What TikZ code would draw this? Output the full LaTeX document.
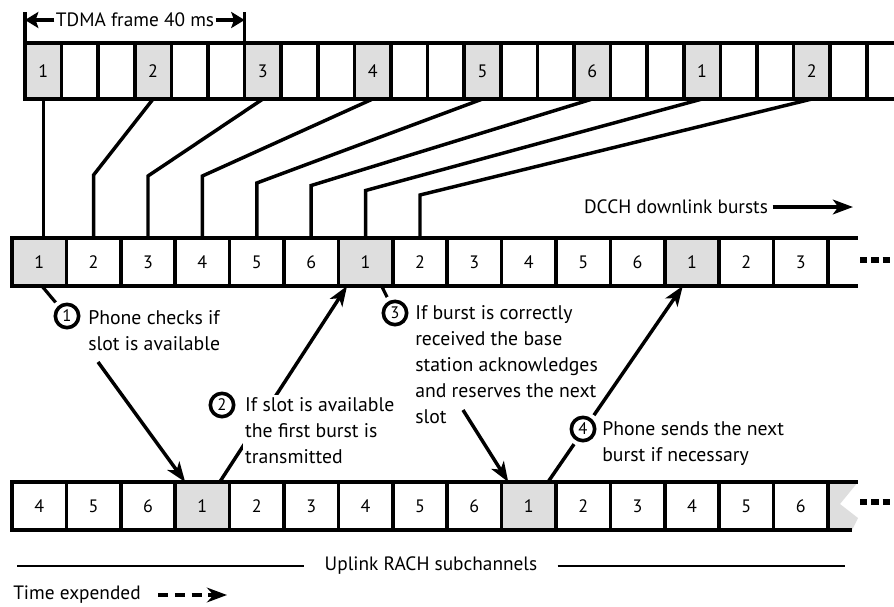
\documentclass[tikz,border=0pt]{standalone}
\usepackage{fontspec}
\setmainfont{PT Sans}
\usepackage{tikz}
\usetikzlibrary{arrows.meta, positioning}
\definecolor{slotgray}{HTML}{DEDEDE}
\pgfdeclarelayer{background}
\pgfsetlayers{background,main}

\begin{document}
\begin{tikzpicture}[x=0.75pt, y=-0.75pt,
    cell/.style={draw, line width=2.8pt, inner sep=0pt, outer sep=0pt,
      font=\fontsize{13.5}{16}\selectfont},
    topcell/.style={cell, minimum width=27.45pt, minimum height=42pt},
    rowcell/.style={cell, minimum width=40.8pt, minimum height=36pt},
    used/.style={fill=slotgray},
    note/.style={anchor=north west, align=left, inner sep=0pt,
      font=\fontsize{14.8}{19.5}\selectfont},
    labeltext/.style={font=\fontsize{14.5}{17}\selectfont},
    stepmark/.style={circle, draw, line width=2.7pt, fill=white,
      minimum size=17.5pt, inner sep=0pt, font=\fontsize{12.5}{14}\selectfont,
      preaction={draw=white, line width=9pt}},
    link/.style={line width=2.6pt},
    leaderline/.style={line width=2.4pt},
    framebar/.style={line width=2.8pt},
    sideline/.style={line width=2pt},
    steparrow/.style={-{Stealth[length=15pt, width=11pt, inset=4pt]},
      line width=2.6pt},
    dimarrow/.style={-{Stealth[length=10pt, width=12pt, inset=2pt]},
      line width=2.8pt},
    timearrow/.style={-{Stealth[length=15pt, width=11pt]}, line width=2.8pt,
      dash pattern=on 7.5pt off 5pt},
    moredots/.style={line width=4.5pt, dash pattern=on 5.5pt off 3pt},
]
\useasboundingbox (0,0) rectangle (894,607);
% TDMA frame
\node[topcell, used] (t0) at (43.3, 71) {1};
\node[topcell, right=0pt of t0] (t1) {};
\node[topcell, right=0pt of t1] (t2) {};
\node[topcell, used, right=0pt of t2] (t3) {2};
\node[topcell, right=0pt of t3] (t4) {};
\node[topcell, right=0pt of t4] (t5) {};
\node[topcell, used, right=0pt of t5] (t6) {3};
\node[topcell, right=0pt of t6] (t7) {};
\node[topcell, right=0pt of t7] (t8) {};
\node[topcell, used, right=0pt of t8] (t9) {4};
\node[topcell, right=0pt of t9] (t10) {};
\node[topcell, right=0pt of t10] (t11) {};
\node[topcell, used, right=0pt of t11] (t12) {5};
\node[topcell, right=0pt of t12] (t13) {};
\node[topcell, right=0pt of t13] (t14) {};
\node[topcell, used, right=0pt of t14] (t15) {6};
\node[topcell, right=0pt of t15] (t16) {};
\node[topcell, right=0pt of t16] (t17) {};
\node[topcell, used, right=0pt of t17] (t18) {1};
\node[topcell, right=0pt of t18] (t19) {};
\node[topcell, right=0pt of t19] (t20) {};
\node[topcell, used, right=0pt of t20] (t21) {2};
\node[topcell, right=0pt of t21] (t22) {};
\node[topcell, right=0pt of t22] (t23) {};
\node[labeltext, inner xsep=1pt] (tdma) at (135, 20) {TDMA frame 40 ms};
% DCCH downlink
\node[rowcell, used] (m0) at (39.2, 262) {1};
\node[rowcell, right=0pt of m0] (m1) {2};
\node[rowcell, right=0pt of m1] (m2) {3};
\node[rowcell, right=0pt of m2] (m3) {4};
\node[rowcell, right=0pt of m3] (m4) {5};
\node[rowcell, right=0pt of m4] (m5) {6};
\node[rowcell, used, right=0pt of m5] (m6) {1};
\node[rowcell, right=0pt of m6] (m7) {2};
\node[rowcell, right=0pt of m7] (m8) {3};
\node[rowcell, right=0pt of m8] (m9) {4};
\node[rowcell, right=0pt of m9] (m10) {5};
\node[rowcell, right=0pt of m10] (m11) {6};
\node[rowcell, used, right=0pt of m11] (m12) {1};
\node[rowcell, right=0pt of m12] (m13) {2};
\node[rowcell, right=0pt of m13] (m14) {3};
\node[labeltext] (dcch) at (676, 207) {DCCH downlink bursts};
% Uplink RACH
\node[rowcell] (b0) at (39.2, 506) {4};
\node[rowcell, right=0pt of b0] (b1) {5};
\node[rowcell, right=0pt of b1] (b2) {6};
\node[rowcell, used, right=0pt of b2] (b3) {1};
\node[rowcell, right=0pt of b3] (b4) {2};
\node[rowcell, right=0pt of b4] (b5) {3};
\node[rowcell, right=0pt of b5] (b6) {4};
\node[rowcell, right=0pt of b6] (b7) {5};
\node[rowcell, right=0pt of b7] (b8) {6};
\node[rowcell, used, right=0pt of b8] (b9) {1};
\node[rowcell, right=0pt of b9] (b10) {2};
\node[rowcell, right=0pt of b10] (b11) {3};
\node[rowcell, right=0pt of b11] (b12) {4};
\node[rowcell, right=0pt of b12] (b13) {5};
\node[rowcell, right=0pt of b13] (b14) {6};
\node[labeltext, inner xsep=15pt] (uplink) at (431, 566) {Uplink RACH subchannels};
\node[labeltext, anchor=west, inner sep=0pt] (time) at (13, 595) {Time expended};
% Steps
\node[stepmark] (c1) at (67, 316) {1};
\node[note] (n1) at (88, 310) {Phone checks if\\slot is available};
\node[stepmark] (c2) at (222, 405) {2};
\node[note, fill=white, inner sep=2pt] (n2) at (242.3, 394.3)
    {If slot is available\\the first burst is\\transmitted};
\node[stepmark] (c3) at (395, 313) {3};
\node[note] (n3) at (415, 305)
    {If burst is correctly\\received the base\\station acknowledges\\and reserves the next\\slot};
\node[stepmark] (c4) at (583, 429) {4};
\node[note] (n4) at (602, 421) {Phone sends the next\\burst if necessary};
\coordinate (s1) at (98, 362);
\coordinate (s3) at (463, 410);
\coordinate (dcchend) at (853, 207);
\coordinate (upleft) at (17, 566);
\coordinate (upright) at (845, 566);
\coordinate (timeend) at (227, 595);
% Connectors
\begin{pgfonlayer}{background}
\draw[framebar] (t0.north west) -- ++(0,-31) coordinate (tdmaleft);
\draw[framebar] (t6.north west) -- ++(0,-31) coordinate (tdmaright);
\draw[dimarrow] (tdma.west) -- (tdma.west -| tdmaleft);
\draw[dimarrow] (tdma.east) -- (tdma.east -| tdmaright);
\draw[link] (t0.south) -- (t0.south |- m0.north);
\draw[link] (m1.north) -- ++(0,-63) -- (t3.south);
\draw[link] (m2.north) -- ++(0,-62) -- (t6.south);
\draw[link] (m3.north) -- ++(0,-62) -- (t9.south);
\draw[link] (m4.north) -- ++(0,-55) -- (t12.south);
\draw[link] (m5.north) -- ++(0,-52.5) -- (t15.south);
\draw[link] (m6.north) -- ++(0,-47.5) -- (t18.south);
\draw[link] (m7.north) -- ++(0,-43) -- (t21.south);
\draw[steparrow] (dcch.east) -- (dcchend);
\draw[leaderline] ([xshift=2pt]m0.south) -- (c1);
\draw[leaderline] ([xshift=12pt]m6.south) -- (c3);
\draw[steparrow] (s1) -- ([xshift=7.5pt]b3.north west);
\draw[steparrow] ([xshift=13pt]b3.north) -- ([xshift=6.5pt]m6.south west);
\draw[steparrow] (s3) -- ([xshift=5pt]b9.north west);
\draw[steparrow] ([xshift=14.4pt]b9.north) -- ([xshift=13.5pt]m12.south west);
\draw[sideline] (upleft) -- (uplink.west);
\draw[sideline] (uplink.east) -- (upright);
\draw[timearrow] ([xshift=13pt]time.east) -- (timeend);
% Open row ends
\draw[framebar] (m14.north east) -- ++(30,0);
\draw[framebar] (m14.south east) -- ++(30,0);
\fill[slotgray] (b14.north east) -- ++(30,0) -- ++(-18,22) -- ++(18,14)
    -- ++(-6,12) -- (b14.south east) -- cycle;
\draw[framebar] (b14.north east) -- ++(30,0);
\draw[framebar] (b14.south east) -- ++(24,0);
\draw[moredots] ([xshift=24pt, yshift=1.5pt]m14.east) -- ++(30,0);
\draw[moredots] ([xshift=24pt, yshift=3pt]b14.east) -- ++(30,0);
\end{pgfonlayer}
\end{tikzpicture}
\end{document}
